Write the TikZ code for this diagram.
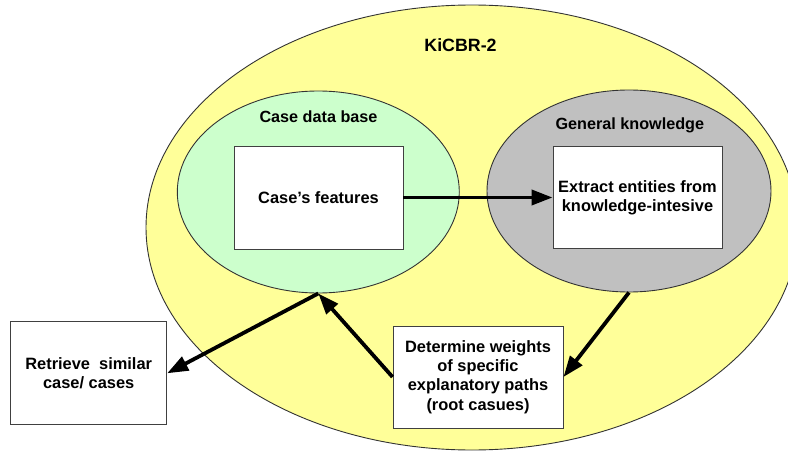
\documentclass[tikz,border=0pt]{standalone}
\usepackage{fontspec}
\setmainfont{Liberation Sans}
\usetikzlibrary{shapes.geometric,arrows.meta,positioning}

\definecolor{kiyellow}{RGB}{255,255,153}
\definecolor{casegreen}{RGB}{204,255,204}
\definecolor{genkgray}{RGB}{192,192,192}

\begin{document}
\begin{tikzpicture}[x=1pt, y=-1pt, >={Triangle[length=21pt,width=15pt]}]
			\tikzstyle{region} = [draw=black!80, ellipse, inner sep=0pt, line width=0.9pt]
			\tikzstyle{stepbox} = [draw=black!75, fill=white, line width=0.9pt, align=center, inner sep=2pt, font=\fontsize{16.4}{19.4}\selectfont\bfseries]
			\tikzstyle{title} = [inner sep=0pt, font=\fontsize{16.2}{19.4}\selectfont\bfseries]
			\useasboundingbox (0,0) rectangle (788,452);
			\begin{scope}
			\path[->, line width=3.8pt]

			node[region, fill=kiyellow, minimum width=652pt, minimum height=445pt] (kicbr) at (472,227.5) {}
			node[region, fill=casegreen, minimum width=282pt, minimum height=202pt] (casedb) at (318.3,192) {}
			node[region, fill=genkgray, minimum width=284pt, minimum height=202pt] (genk) at (629,191) {}

			node[title, font=\fontsize{17.8}{21}\selectfont\bfseries] (kicbrlabel) at (460.5,45) {KiCBR-2}
			node[title] (casedblabel) at (318.5,117) {Case data base}
			node[title] (genklabel) at (629.8,125) {General knowledge}

			node[stepbox, minimum width=169pt, minimum height=103pt] (casef) at (318.5,197.5) {Case’s features}
			node[stepbox, minimum width=169pt, minimum height=102pt] (extract) at (637.5,197.5) {Extract entities from\\knowledge-intesive}
			node[stepbox, minimum width=170pt, minimum height=102pt] (weights) at (478,377) {Determine weights\\of specific\\explanatory paths\\(root casues)}
			node[stepbox, minimum width=156pt, minimum height=103pt] (retrieve) at (88.7,373.3) {Retrieve\ \ similar\\case/ cases}

			(casef.east) edge (extract.west)
			(genk.south) edge (weights.east)
			(weights.west) edge (casedb.south)
			(casedb.south) edge (retrieve.east)
			;
			\end{scope}

\end{tikzpicture}
\end{document}
